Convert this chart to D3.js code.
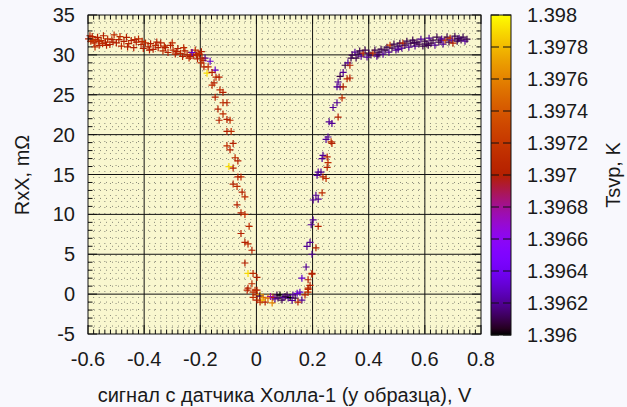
<!DOCTYPE html>
<html>
<head>
<meta charset="utf-8">
<script src="https://cdn.jsdelivr.net/npm/d3@7"></script>
<style>
  body { margin: 0; background: #f8f8fd; }
  text { font-family: "Liberation Sans", Arial, sans-serif; font-size: 20px; fill: #1a1a1a; }
</style>
</head>
<body>
<svg id="chart" width="627" height="407"></svg>
<script>
// tick labels
const xTicks = [-0.6, -0.4, -0.2, 0, 0.2, 0.4, 0.6, 0.8];
const yTicks = [-5, 0, 5, 10, 15, 20, 25, 30, 35];
const cbTicks = [1.396, 1.3962, 1.3964, 1.3966, 1.3968, 1.397, 1.3972, 1.3974, 1.3976, 1.3978, 1.398];

// [signal V, RxX mOhm, Tsvp K]
const leftPlateau = [
  [-0.598, 32.0, 1.3970], [-0.590, 31.7, 1.3971], [-0.585, 32.3, 1.3970], [-0.578, 31.5, 1.3970],
  [-0.572, 31.9, 1.3971], [-0.566, 32.2, 1.3970], [-0.560, 31.2, 1.3970], [-0.553, 31.8, 1.3971],
  [-0.545, 32.4, 1.3970], [-0.538, 31.6, 1.3970], [-0.530, 32.0, 1.3971], [-0.522, 31.3, 1.3970],
  [-0.515, 31.9, 1.3970], [-0.507, 32.5, 1.3971], [-0.499, 31.5, 1.3970], [-0.490, 31.9, 1.3970],
  [-0.481, 31.1, 1.3971], [-0.472, 31.7, 1.3970], [-0.463, 32.2, 1.3970], [-0.455, 31.4, 1.3971],
  [-0.446, 31.8, 1.3970], [-0.437, 30.9, 1.3970], [-0.428, 31.6, 1.3970], [-0.420, 32.0, 1.3971],
  [-0.411, 31.3, 1.3970], [-0.403, 30.8, 1.3970], [-0.395, 31.5, 1.3971], [-0.386, 31.0, 1.3970],
  [-0.377, 31.4, 1.3970], [-0.368, 30.7, 1.3970], [-0.359, 31.2, 1.3971], [-0.350, 30.9, 1.3970],
  [-0.341, 31.5, 1.3970], [-0.333, 30.5, 1.3971], [-0.324, 30.9, 1.3970], [-0.315, 30.3, 1.3970],
  [-0.306, 31.2, 1.3970], [-0.297, 30.6, 1.3971], [-0.289, 30.1, 1.3970], [-0.280, 30.8, 1.3970],
  [-0.271, 30.2, 1.3971], [-0.263, 29.8, 1.3970], [-0.255, 30.5, 1.3970], [-0.247, 30.0, 1.3970],
  [-0.240, 29.6, 1.3971], [-0.232, 30.3, 1.3970], [-0.225, 29.9, 1.3970], [-0.218, 30.6, 1.3971],
  [-0.210, 29.5, 1.3970], [-0.203, 30.1, 1.3970], [-0.196, 30.4, 1.3970], [-0.190, 29.3, 1.3971],
  [-0.575, 31.0, 1.3971], [-0.582, 31.8, 1.3972], [-0.548, 31.4, 1.3971], [-0.300, 31.5, 1.3971],
  [-0.593, 32.4, 1.3970], [-0.562, 31.7, 1.3971], [-0.534, 31.2, 1.3970], [-0.511, 31.6, 1.3970],
  [-0.486, 32.3, 1.3971], [-0.459, 31.0, 1.3970], [-0.433, 31.9, 1.3970], [-0.407, 31.7, 1.3971],
  [-0.381, 30.6, 1.3970], [-0.355, 31.6, 1.3970], [-0.328, 31.1, 1.3971], [-0.284, 30.4, 1.3970],
  [-0.259, 30.9, 1.3971], [-0.236, 29.8, 1.3970], [-0.214, 30.0, 1.3970],
  [-0.229, 30.3, 1.3963], [-0.183, 29.6, 1.3962], [-0.165, 29.2, 1.3963], [-0.147, 28.1, 1.3963]
];
const leftBranch = [
  [-0.208, 30.2, 1.3971], [-0.194, 29.6, 1.3970], [-0.197, 29.0, 1.3971], [-0.187, 28.5, 1.3970],
  [-0.172, 28.5, 1.3971], [-0.176, 27.7, 1.3979], [-0.158, 27.8, 1.3970], [-0.144, 27.2, 1.3971],
  [-0.133, 27.2, 1.3970], [-0.151, 26.5, 1.3970], [-0.158, 26.2, 1.3971], [-0.130, 25.6, 1.3971],
  [-0.119, 25.3, 1.3970], [-0.147, 24.7, 1.3970], [-0.119, 24.0, 1.3971], [-0.105, 24.0, 1.3970],
  [-0.137, 23.2, 1.3970], [-0.119, 22.6, 1.3971], [-0.105, 21.9, 1.3970], [-0.094, 21.8, 1.3971],
  [-0.133, 21.8, 1.3970], [-0.105, 20.4, 1.3970], [-0.090, 20.4, 1.3971], [-0.105, 18.6, 1.3971],
  [-0.083, 18.9, 1.3970], [-0.094, 18.1, 1.3970], [-0.076, 17.1, 1.3971], [-0.066, 16.7, 1.3970],
  [-0.098, 16.0, 1.3979], [-0.083, 15.8, 1.3970], [-0.066, 14.7, 1.3970], [-0.055, 14.7, 1.3971],
  [-0.083, 13.8, 1.3970], [-0.069, 13.5, 1.3971], [-0.051, 12.8, 1.3970], [-0.041, 12.2, 1.3971],
  [-0.069, 11.2, 1.3970], [-0.055, 10.2, 1.3970], [-0.041, 10.0, 1.3971], [-0.026, 8.5, 1.3971],
  [-0.055, 7.6, 1.3970], [-0.041, 6.5, 1.3970], [-0.030, 6.3, 1.3971], [-0.016, 5.5, 1.3970],
  [-0.041, 3.9, 1.3970], [-0.030, 2.6, 1.3979], [-0.012, 2.6, 1.3971], [0.002, 2.1, 1.3970],
  [-0.016, 1.3, 1.3971], [-0.030, 0.75, 1.3970], [-0.012, 0.25, 1.3971], [0.002, 0.5, 1.3970]
];
const bottom = [
  [-0.033, 0.5, 1.3970], [-0.005, 0.5, 1.3971], [0.002, -0.1, 1.3970], [-0.012, -0.4, 1.3971],
  [0.013, -0.1, 1.3978], [0.012, -0.25, 1.3961], [0.024, -0.4, 1.3975], [0.031, -1.0, 1.3970],
  [0.020, -0.75, 1.3978], [0.056, -1.1, 1.3976], [0.041, -0.5, 1.3975], [0.059, -0.4, 1.3970],
  [0.050, -0.3, 1.3968], [0.013, -1.0, 1.3971], [0.002, -0.75, 1.3970], [0.073, -0.1, 1.3961],
  [0.077, -0.5, 1.3961], [0.084, -0.1, 1.3960], [0.091, -0.75, 1.3961], [0.095, -0.4, 1.3962],
  [0.109, -0.1, 1.3961], [0.113, -0.5, 1.3962], [0.120, -0.4, 1.3960], [0.130, -0.1, 1.3962],
  [0.138, -0.5, 1.3961], [0.145, 0.1, 1.3963], [0.155, 0.25, 1.3963], [0.162, -0.75, 1.3962],
  [0.148, -1.0, 1.3970], [0.173, -0.1, 1.3970], [0.184, 0.25, 1.3971], [0.191, 1.1, 1.3970],
  [0.184, 0.75, 1.3970], [0.162, 2.0, 1.3963], [0.198, 2.5, 1.3970], [0.066, -0.6, 1.3962],
  [0.102, -0.3, 1.3961], [0.127, -0.8, 1.3962]
];
const rightBranch = [
  [0.177, 3.4, 1.3962], [0.184, 1.8, 1.3970], [0.184, 0.6, 1.3971], [0.198, 2.6, 1.3970],
  [0.180, 6.0, 1.3962], [0.191, 6.5, 1.3962], [0.198, 5.0, 1.3962], [0.212, 5.8, 1.3970],
  [0.195, 8.7, 1.3962], [0.202, 9.3, 1.3962], [0.220, 8.5, 1.3970], [0.202, 11.8, 1.3962],
  [0.220, 11.9, 1.3962], [0.212, 12.4, 1.3962], [0.234, 12.7, 1.3971], [0.216, 14.9, 1.3962],
  [0.220, 15.3, 1.3962], [0.230, 15.3, 1.3962], [0.237, 14.7, 1.3970], [0.248, 14.5, 1.3971],
  [0.252, 15.9, 1.3970], [0.255, 16.5, 1.3971], [0.234, 17.0, 1.3962], [0.237, 17.4, 1.3962],
  [0.252, 17.2, 1.3970], [0.248, 19.4, 1.3962], [0.255, 19.7, 1.3962], [0.266, 19.1, 1.3971],
  [0.269, 18.9, 1.3970], [0.259, 21.6, 1.3962], [0.269, 21.4, 1.3962], [0.291, 22.2, 1.3970],
  [0.273, 23.4, 1.3962], [0.287, 24.0, 1.3962], [0.305, 24.6, 1.3971], [0.287, 26.0, 1.3962],
  [0.298, 26.0, 1.3962], [0.309, 26.0, 1.3970], [0.291, 26.6, 1.3962], [0.298, 27.3, 1.3961],
  [0.323, 27.0, 1.3971], [0.333, 27.1, 1.3970], [0.309, 27.8, 1.3962], [0.316, 28.7, 1.3961],
  [0.326, 29.0, 1.3962], [0.333, 28.7, 1.3970], [0.337, 29.6, 1.3961]
];
const rightPlateau = [
  [0.341, 29.97, 1.3961], [0.351, 30.34, 1.3962], [0.355, 29.60, 1.3961], [0.362, 30.09, 1.3961],
  [0.373, 29.84, 1.3962], [0.380, 30.22, 1.3970], [0.387, 30.60, 1.3961], [0.394, 29.72, 1.3962],
  [0.401, 30.22, 1.3961], [0.408, 29.97, 1.3961], [0.415, 30.22, 1.3971], [0.422, 30.60, 1.3961],
  [0.429, 29.84, 1.3962], [0.437, 30.34, 1.3961], [0.444, 30.72, 1.3961], [0.451, 30.09, 1.3962],
  [0.458, 30.60, 1.3961], [0.465, 30.97, 1.3961], [0.472, 30.34, 1.3962], [0.476, 31.22, 1.3972],
  [0.483, 30.85, 1.3961], [0.490, 31.35, 1.3961], [0.497, 30.60, 1.3962], [0.504, 31.10, 1.3961],
  [0.511, 31.47, 1.3961], [0.518, 30.85, 1.3962], [0.522, 31.47, 1.3970], [0.529, 31.22, 1.3961],
  [0.536, 31.72, 1.3961], [0.543, 30.97, 1.3962], [0.550, 31.47, 1.3961], [0.557, 31.85, 1.3961],
  [0.565, 31.10, 1.3962], [0.572, 31.60, 1.3961], [0.579, 31.35, 1.3961], [0.586, 31.97, 1.3962],
  [0.593, 31.10, 1.3961], [0.600, 31.72, 1.3961], [0.607, 31.35, 1.3961], [0.615, 32.10, 1.3962],
  [0.622, 31.47, 1.3961], [0.629, 31.85, 1.3961], [0.636, 31.22, 1.3962], [0.643, 32.23, 1.3961],
  [0.650, 31.60, 1.3961], [0.657, 31.85, 1.3961], [0.665, 31.35, 1.3962], [0.672, 31.85, 1.3972],
  [0.679, 32.23, 1.3961], [0.686, 31.60, 1.3961], [0.690, 32.10, 1.3971], [0.697, 31.85, 1.3962],
  [0.700, 31.47, 1.3970], [0.707, 32.35, 1.3961], [0.715, 31.72, 1.3961], [0.722, 32.10, 1.3962],
  [0.729, 31.85, 1.3961], [0.736, 32.23, 1.3961], [0.743, 31.72, 1.3962], [0.750, 31.97, 1.3961],
  [0.368, 30.5, 1.3961], [0.433, 30.0, 1.3961], [0.505, 30.7, 1.3962], [0.562, 31.5, 1.3961],
  [0.612, 31.2, 1.3961], [0.660, 32.0, 1.3962], [0.718, 32.0, 1.3961]
];

const allPoints = leftPlateau.concat(leftBranch, bottom, rightBranch, rightPlateau);

const margin = { left: 88, right: 481, top: 15, bottom: 334 };
const cbox = { left: 491, right: 511, top: 15, bottom: 335 };

const svg = d3.select("#chart");

const x = d3.scaleLinear().domain([-0.6, 0.8]).range([margin.left, margin.right]);
const y = d3.scaleLinear().domain([-5, 35]).range([margin.bottom, margin.top]);
const cb = d3.scaleLinear().domain([1.396, 1.398]).range([cbox.bottom, cbox.top]);

// gnuplot default palette (rgbformulae 7,5,15)
function palette(t) {
  t = Math.max(0, Math.min(1, t));
  return d3.rgb(
    255 * Math.sqrt(t),
    255 * t * t * t,
    255 * Math.max(0, Math.sin(2 * Math.PI * t))
  ).formatHex();
}
const color = d3.scaleSequential(palette).domain([1.396, 1.398]);

// plot background
svg.append("rect")
  .attr("x", margin.left).attr("y", margin.top)
  .attr("width", margin.right - margin.left)
  .attr("height", margin.bottom - margin.top)
  .attr("fill", "#f9f7cf");

// minor grid (dotted)
const xMinor = d3.range(-0.6, 0.8001, 0.02).filter(d => Math.abs(d * 5 - Math.round(d * 5)) > 1e-6);
const yMinor = d3.range(-5, 35.001, 1).filter(d => d % 5 !== 0);

const minorGrid = svg.append("g").attr("class", "minor_grid")
  .attr("stroke", "#8a8a7a").attr("stroke-width", 1).attr("stroke-dasharray", "1,5");
minorGrid.selectAll(null).data(xMinor).enter().append("line")
  .attr("x1", d => x(d)).attr("x2", d => x(d))
  .attr("y1", margin.top).attr("y2", margin.bottom);
minorGrid.selectAll(null).data(yMinor).enter().append("line")
  .attr("y1", d => y(d)).attr("y2", d => y(d))
  .attr("x1", margin.left).attr("x2", margin.right);

// major grid
const majorGrid = svg.append("g").attr("class", "major_grid")
  .attr("stroke", "#111").attr("stroke-width", 1);
majorGrid.selectAll(null).data(xTicks.slice(1, -1)).enter().append("line")
  .attr("x1", d => x(d)).attr("x2", d => x(d))
  .attr("y1", margin.top).attr("y2", margin.bottom);
majorGrid.selectAll(null).data(yTicks.slice(1, -1)).enter().append("line")
  .attr("y1", d => y(d)).attr("y2", d => y(d))
  .attr("x1", margin.left).attr("x2", margin.right);

// points as "+"
svg.append("g").attr("class", "points")
  .selectAll(null)
  .data(allPoints)
  .enter()
  .append("path")
  .attr("d", "M-3.5,0H3.5M0,-3.5V3.5")
  .attr("transform", d => "translate(" + x(d[0]) + "," + y(d[1]) + ")")
  .attr("stroke", d => color(d[2]))
  .attr("stroke-width", 1.2)
  .attr("opacity", 1)
  .attr("fill", "none");

// border + ticks
const tickG = svg.append("g").attr("stroke", "#111").attr("stroke-width", 1);
const xMinorAll = d3.range(-0.6, 0.8001, 0.02);
tickG.selectAll(null).data(xMinorAll).enter().append("path")
  .attr("d", d => {
    const len = xTicks.some(t => Math.abs(t - d) < 1e-6) ? 9 : 4.5;
    return "M" + x(d) + "," + margin.bottom + "v" + (-len) +
      "M" + x(d) + "," + margin.top + "v" + len;
  });
const yMinorAll = d3.range(-5, 35.001, 1);
tickG.selectAll(null).data(yMinorAll).enter().append("path")
  .attr("d", d => {
    const len = d % 5 === 0 ? 9 : 4.5;
    return "M" + margin.left + "," + y(d) + "h" + len +
      "M" + margin.right + "," + y(d) + "h" + (-len);
  });

svg.append("rect")
  .attr("x", margin.left).attr("y", margin.top)
  .attr("width", margin.right - margin.left)
  .attr("height", margin.bottom - margin.top)
  .attr("fill", "none").attr("stroke", "#111").attr("stroke-width", 1);

// tick labels
svg.append("g").selectAll(null).data(xTicks).enter().append("text")
  .attr("x", d => x(d)).attr("y", 366)
  .attr("text-anchor", "middle")
  .text(d => String(+d.toFixed(1)));
svg.append("g").selectAll(null).data(yTicks).enter().append("text")
  .attr("x", 75).attr("y", d => y(d) + 7)
  .attr("text-anchor", "end")
  .text(d => d);

// colour box
const defs = svg.append("defs");
const grad = defs.append("linearGradient")
  .attr("id", "cbgrad")
  .attr("x1", 0).attr("y1", 1).attr("x2", 0).attr("y2", 0);
grad.selectAll("stop").data(d3.range(0, 1.0001, 0.02)).enter().append("stop")
  .attr("offset", d => d)
  .attr("stop-color", d => palette(d));

svg.append("rect")
  .attr("x", cbox.left).attr("y", cbox.top)
  .attr("width", cbox.right - cbox.left)
  .attr("height", cbox.bottom - cbox.top)
  .attr("fill", "url(#cbgrad)")
  .attr("stroke", "#111").attr("stroke-width", 1);

svg.append("g").attr("stroke", "#111").attr("stroke-width", 1)
  .selectAll(null).data(cbTicks).enter().append("path")
  .attr("d", d => "M" + cbox.left + "," + cb(d) + "h8M" + cbox.right + "," + cb(d) + "h-8");

svg.append("g").selectAll(null).data(cbTicks).enter().append("text")
  .attr("x", 527).attr("y", d => cb(d) + 7)
  .text(d => String(+d.toFixed(4)));

// axis titles
svg.append("text")
  .attr("transform", "translate(29," + 175 + ") rotate(-90)")
  .attr("text-anchor", "middle")
  .text("RxX, mΩ");
svg.append("text")
  .attr("transform", "translate(620," + 175 + ") rotate(-90)")
  .attr("text-anchor", "middle")
  .text("Tsvp, K");
svg.append("text")
  .attr("x", (margin.left + margin.right) / 2).attr("y", 402)
  .attr("text-anchor", "middle")
  .text("сигнал с датчика Холла-1 (у образца), V");
</script>
</body>
</html>
